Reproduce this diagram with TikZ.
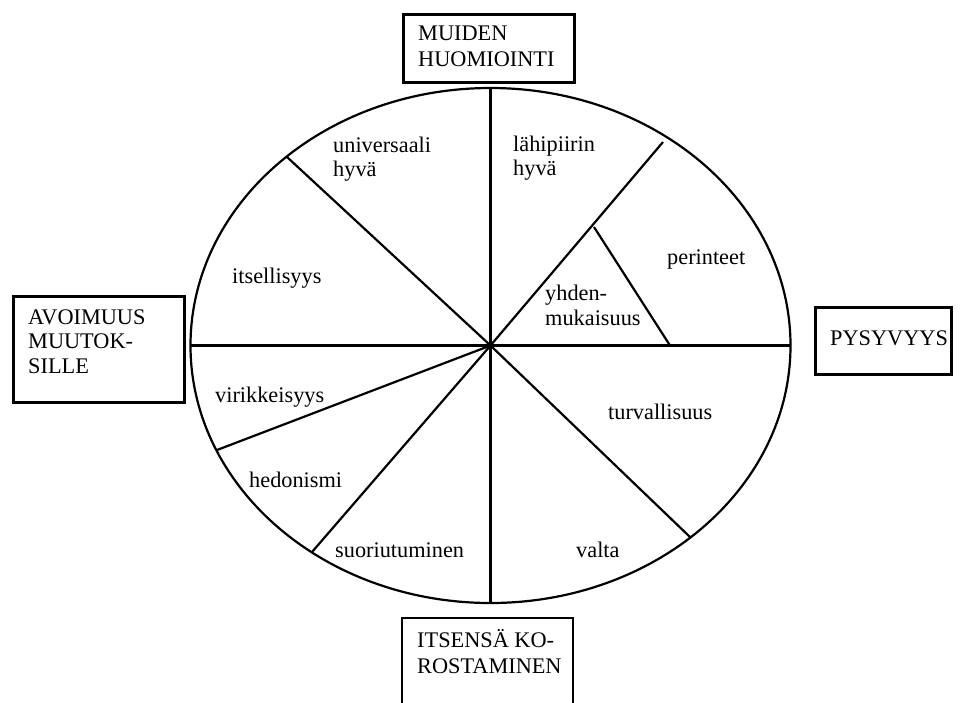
\documentclass[tikz,border=0pt]{standalone}
\usepackage{fontspec}
\setmainfont{Liberation Serif}
\begin{document}
\begin{tikzpicture}[x=1pt,y=-1pt,
  lbl/.style={inner sep=0pt, anchor=base west, font=\fontsize{22.3}{25}\selectfont},
  framebox/.style={draw, line width=2.6pt, inner sep=0pt, anchor=north west},
  divider/.style={line width=2.2pt},
  rim/.style={line width=2.2pt}]
\clip (0,0) rectangle (963,702);

% outer circle of values
\coordinate (c) at (490.5,345.5);
\draw[rim] (c) ellipse [x radius=300pt, y radius=257.5pt];

% points on the rim where the dividers end
\coordinate (top) at (490.5,88);
\coordinate (bottom) at (490.5,603);
\coordinate (left) at (190.5,345.5);
\coordinate (right) at (790.5,345.5);
\coordinate (ul) at (287,157);
\coordinate (ur) at (663,142);
\coordinate (lr) at (690,537);
\coordinate (ll) at (312,552);
\coordinate (vl) at (217,450);
\coordinate (inA) at (594,227);
\coordinate (inB) at (670,345.5);

% dividers
\draw[divider] (top) -- (bottom);
\draw[divider] (left) -- (right);
\draw[divider] (c) -- (ul);
\draw[divider] (c) -- (ur);
\draw[divider] (c) -- (lr);
\draw[divider] (c) -- (ll);
\draw[divider] (c) -- (vl);
\draw[divider] (inA) -- (inB);

% dimension boxes
\node[framebox, minimum width=171pt, minimum height=68pt] (muiden) at (402,13) {};
\node[framebox, minimum width=171pt, minimum height=106pt] (avoimuus) at (12,295) {};
\node[framebox, minimum width=136pt, minimum height=67pt] (pysyvyys) at (814,306) {};
\draw[line width=2.6pt] (402,720) -- (402,618) -- (573,618) -- (573,720);
\coordinate (itsensa) at (402,618);

% box labels
\node[lbl] (muiden1) at (418,40) {MUIDEN};
\node[lbl] (muiden2) at (418,66) {HUOMIOINTI};
\node[lbl] (avo1) at (28,324) {AVOIMUUS};
\node[lbl] (avo2) at (28,348.5) {MUUTOK-};
\node[lbl] (avo3) at (28,373) {SILLE};
\node[lbl] (pys) at (830,345) {PYSYVYYS};
\node[lbl] (its1) at (417,647) {ITSENSÄ KO-};
\node[lbl] (its2) at (417,673) {ROSTAMINEN};

% sector labels
\node[lbl] (uni1) at (333,152) {universaali};
\node[lbl] (uni2) at (333,176) {hyvä};
\node[lbl] (lah1) at (513,151) {lähipiirin};
\node[lbl] (lah2) at (513,175) {hyvä};
\node[lbl] (per) at (667,264) {perinteet};
\node[lbl] (yhd1) at (545,300) {yhden-};
\node[lbl] (yhd2) at (545,325) {mukaisuus};
\node[lbl] (its) at (232,283) {itsellisyys};
\node[lbl] (vir) at (215,402) {virikkeisyys};
\node[lbl] (hed) at (249,487) {hedonismi};
\node[lbl] (suo) at (335,557) {suoriutuminen};
\node[lbl] (val) at (576,557) {valta};
\node[lbl] (tur) at (608,419) {turvallisuus};
\end{tikzpicture}
\end{document}
